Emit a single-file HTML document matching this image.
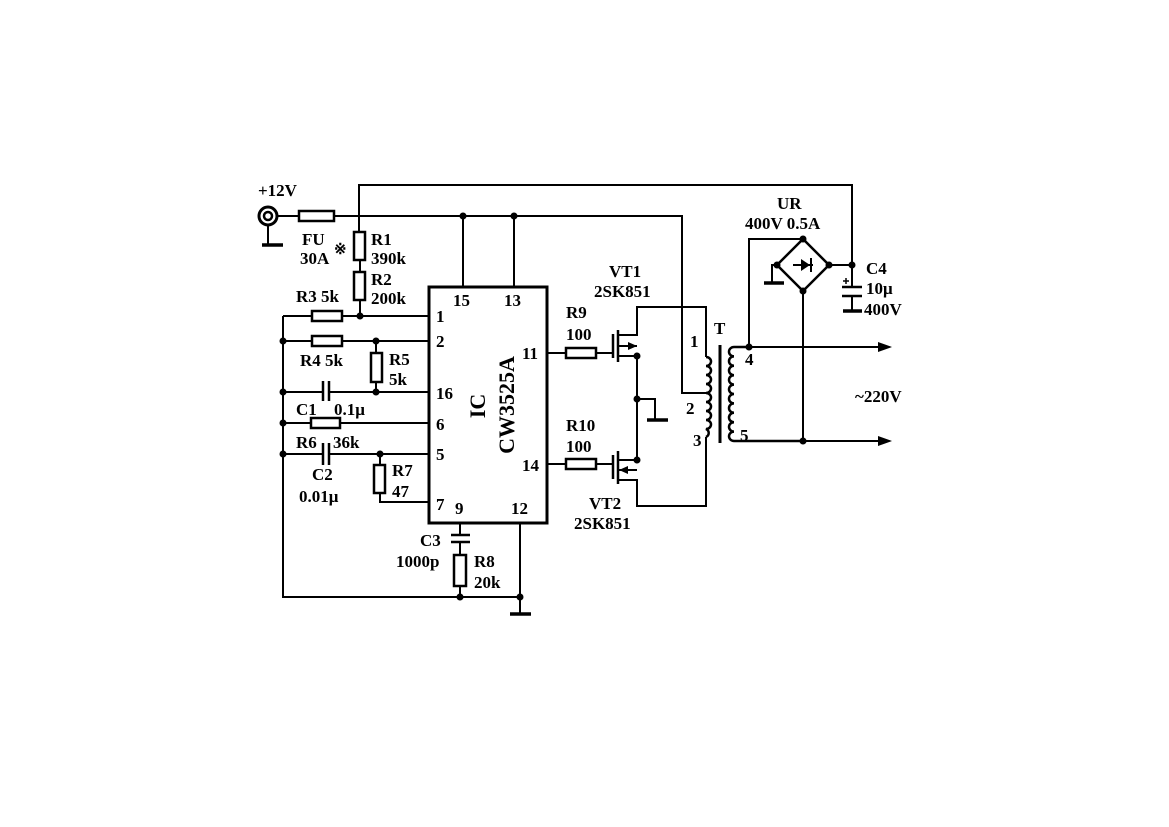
<!DOCTYPE html>
<html><head><meta charset="utf-8"><style>
html,body{margin:0;padding:0;background:#fff}
svg{display:block}
text{font-family:"Liberation Serif",serif;font-weight:bold;font-size:17px;fill:#000}
</style></head><body>
<svg width="1169" height="827" viewBox="0 0 1169 827" xmlns="http://www.w3.org/2000/svg">
<g stroke="#000" stroke-width="2" fill="none">
<polyline points="359,232 359,185 852,185 852,287"/>
<circle cx="268" cy="216" r="9" stroke-width="3"/>
<circle cx="268" cy="216" r="4" stroke-width="2.5"/>
<line x1="268" y1="225" x2="268" y2="245"/>
<line x1="262" y1="245" x2="283" y2="245" stroke-width="3.5"/>
<line x1="277" y1="216" x2="299" y2="216"/>
<rect x="299" y="211" width="35" height="10" stroke-width="2.5"/>
<polyline points="334,216 682,216 682,393 710,393"/>
<line x1="463" y1="216" x2="463" y2="287"/>
<line x1="514" y1="216" x2="514" y2="287"/>
<rect x="354" y="232" width="11" height="28" stroke-width="2.5"/>
<line x1="360" y1="260" x2="360" y2="272"/>
<rect x="354" y="272" width="11" height="28" stroke-width="2.5"/>
<line x1="360" y1="300" x2="360" y2="316"/>
<rect x="429" y="287" width="118" height="236" stroke-width="3"/>
<polyline points="283,316 283,597 520,597"/>
<line x1="283" y1="316" x2="312" y2="316"/>
<rect x="312" y="311" width="30" height="10" stroke-width="2.5"/>
<line x1="342" y1="316" x2="429" y2="316"/>
<line x1="283" y1="341" x2="312" y2="341"/>
<rect x="312" y="336" width="30" height="10" stroke-width="2.5"/>
<line x1="342" y1="341" x2="429" y2="341"/>
<line x1="376" y1="341" x2="376" y2="353"/>
<rect x="371" y="353" width="11" height="29" stroke-width="2.5"/>
<line x1="376" y1="382" x2="376" y2="392"/>
<line x1="283" y1="392" x2="323" y2="392"/>
<line x1="323" y1="381" x2="323" y2="401" stroke-width="2.5"/>
<line x1="329" y1="381" x2="329" y2="401" stroke-width="2.5"/>
<line x1="329" y1="392" x2="429" y2="392"/>
<line x1="283" y1="423" x2="311" y2="423"/>
<rect x="311" y="418" width="29" height="10" stroke-width="2.5"/>
<line x1="340" y1="423" x2="429" y2="423"/>
<line x1="283" y1="454" x2="323" y2="454"/>
<line x1="323" y1="443" x2="323" y2="465" stroke-width="2.5"/>
<line x1="329" y1="443" x2="329" y2="465" stroke-width="2.5"/>
<line x1="329" y1="454" x2="429" y2="454"/>
<line x1="380" y1="454" x2="380" y2="465"/>
<rect x="374" y="465" width="11" height="28" stroke-width="2.5"/>
<polyline points="380,493 380,502 429,502"/>
<line x1="460" y1="523" x2="460" y2="535"/>
<line x1="451" y1="535" x2="470" y2="535" stroke-width="2.5"/>
<line x1="451" y1="542" x2="470" y2="542" stroke-width="2.5"/>
<line x1="460" y1="542" x2="460" y2="555"/>
<rect x="454" y="555" width="12" height="31" stroke-width="2.5"/>
<line x1="460" y1="586" x2="460" y2="597"/>
<line x1="520" y1="523" x2="520" y2="614"/>
<line x1="510" y1="614" x2="531" y2="614" stroke-width="3.5"/>
<line x1="547" y1="353" x2="566" y2="353"/>
<rect x="566" y="348" width="30" height="10" stroke-width="2.5"/>
<line x1="596" y1="353" x2="613" y2="353"/>
<line x1="547" y1="464" x2="566" y2="464"/>
<rect x="566" y="459" width="30" height="10" stroke-width="2.5"/>
<line x1="596" y1="464" x2="613" y2="464"/>
<line x1="613" y1="334" x2="613" y2="358" stroke-width="2.5"/>
<line x1="618" y1="330" x2="618" y2="362" stroke-width="2.5"/>
<polyline points="618,335 637,335 637,307 706,307 706,357"/>
<line x1="618" y1="346" x2="637" y2="346"/>
<polyline points="618,356 637,356 637,460"/>
<polyline points="637,399 655,399 655,420"/>
<line x1="647" y1="420" x2="668" y2="420" stroke-width="3.5"/>
<line x1="613" y1="455" x2="613" y2="479" stroke-width="2.5"/>
<line x1="618" y1="451" x2="618" y2="484" stroke-width="2.5"/>
<line x1="618" y1="460" x2="637" y2="460"/>
<line x1="618" y1="470" x2="637" y2="470"/>
<polyline points="618,480 637,480 637,506 706,506 706,437"/>
<path d="M706,357 a5,4.5 0 0 1 0,9 a5,4.5 0 0 1 0,9 a5,4.5 0 0 1 0,9 a5,4.5 0 0 1 0,9 a5,4.5 0 0 1 0,9 a5,4.5 0 0 1 0,9 a5,4.5 0 0 1 0,9 a5,4.5 0 0 1 0,9 a5,4.5 0 0 1 0,8" stroke-width="2.5"/>
<line x1="720" y1="345" x2="720" y2="443" stroke-width="3"/>
<path d="M749,347 L734,347 a5,4.7 0 0 0 0,9.4 a5,4.7 0 0 0 0,9.4 a5,4.7 0 0 0 0,9.4 a5,4.7 0 0 0 0,9.4 a5,4.7 0 0 0 0,9.4 a5,4.7 0 0 0 0,9.4 a5,4.7 0 0 0 0,9.4 a5,4.7 0 0 0 0,9.4 a5,4.7 0 0 0 0,9.4 a5,4.7 0 0 0 0,9.4 L803,441" stroke-width="2.5"/>
<line x1="749" y1="347" x2="878" y2="347"/>
<line x1="803" y1="441" x2="878" y2="441"/>
<polygon points="803,239 829,265 803,291 777,265" stroke-width="2.5"/>
<polyline points="803,239 749,239 749,347"/>
<line x1="803" y1="291" x2="803" y2="441"/>
<polyline points="777,265 772,265 772,283"/>
<line x1="764" y1="283" x2="784" y2="283" stroke-width="3.5"/>
<line x1="829" y1="265" x2="852" y2="265"/>
<line x1="793" y1="265" x2="813" y2="265"/>
<line x1="842" y1="287" x2="862" y2="287" stroke-width="2.5"/>
<line x1="842" y1="296" x2="862" y2="296" stroke-width="2.5"/>
<line x1="852" y1="296" x2="852" y2="311"/>
<line x1="843" y1="311" x2="862" y2="311" stroke-width="3.5"/>
<line x1="843" y1="281" x2="849" y2="281" stroke-width="1.5"/>
<line x1="846" y1="278" x2="846" y2="284" stroke-width="1.5"/>
</g>
<g fill="#000">
<polygon points="801,259 801,271 810,265"/>
<line x1="811" y1="258" x2="811" y2="272" stroke="#000" stroke-width="2"/>
<polygon points="878,342 892,347 878,352"/>
<polygon points="878,436 892,441 878,446"/>
<polygon points="637,346 628,342 628,350"/>
<polygon points="619,470 628,466 628,474"/>
<circle cx="463" cy="216" r="3.5"/><circle cx="514" cy="216" r="3.5"/>
<circle cx="360" cy="316" r="3.5"/><circle cx="283" cy="341" r="3.5"/>
<circle cx="376" cy="341" r="3.5"/><circle cx="376" cy="392" r="3.5"/>
<circle cx="283" cy="392" r="3.5"/><circle cx="283" cy="423" r="3.5"/>
<circle cx="283" cy="454" r="3.5"/><circle cx="380" cy="454" r="3.5"/>
<circle cx="460" cy="597" r="3.5"/><circle cx="520" cy="597" r="3.5"/>
<circle cx="637" cy="356" r="3.5"/><circle cx="637" cy="399" r="3.5"/>
<circle cx="637" cy="460" r="3.5"/>
<circle cx="749" cy="347" r="3.5"/><circle cx="803" cy="441" r="3.5"/>
<circle cx="803" cy="239" r="3.5"/><circle cx="803" cy="291" r="3.5"/>
<circle cx="777" cy="265" r="3.5"/><circle cx="829" cy="265" r="3.5"/>
<circle cx="852" cy="265" r="3.5"/>
</g>
<text x="258" y="196">+12V</text>
<text x="302" y="245">FU</text>
<text x="300" y="264">30A</text>
<text x="334" y="254" style="font-size:15px">※</text>
<text x="371" y="245">R1</text>
<text x="371" y="264">390k</text>
<text x="371" y="285">R2</text>
<text x="371" y="304">200k</text>
<text x="296" y="302">R3 5k</text>
<text x="300" y="366">R4 5k</text>
<text x="389" y="365">R5</text>
<text x="389" y="385">5k</text>
<text x="296" y="415">C1</text>
<text x="334" y="415">0.1μ</text>
<text x="296" y="448">R6</text>
<text x="333" y="448">36k</text>
<text x="312" y="480">C2</text>
<text x="299" y="502">0.01μ</text>
<text x="392" y="476">R7</text>
<text x="392" y="497">47</text>
<text x="420" y="546">C3</text>
<text x="396" y="567">1000p</text>
<text x="474" y="567">R8</text>
<text x="474" y="588">20k</text>
<text x="453" y="306">15</text>
<text x="504" y="306">13</text>
<text x="436" y="322">1</text>
<text x="436" y="347">2</text>
<text x="436" y="399">16</text>
<text x="436" y="430">6</text>
<text x="436" y="460">5</text>
<text x="436" y="510">7</text>
<text x="455" y="514">9</text>
<text x="511" y="514">12</text>
<text x="522" y="359">11</text>
<text x="522" y="471">14</text>
<text transform="translate(485,406) rotate(-90)" text-anchor="middle" style="font-size:22px">IC</text>
<text transform="translate(514,405) rotate(-90)" text-anchor="middle" style="font-size:22px">CW3525A</text>
<text x="566" y="318">R9</text>
<text x="566" y="340">100</text>
<text x="566" y="431">R10</text>
<text x="566" y="452">100</text>
<text x="609" y="277">VT1</text>
<text x="594" y="297">2SK851</text>
<text x="589" y="509">VT2</text>
<text x="574" y="529">2SK851</text>
<text x="690" y="347">1</text>
<text x="686" y="414">2</text>
<text x="693" y="446">3</text>
<text x="714" y="334">T</text>
<text x="745" y="365">4</text>
<text x="740" y="441">5</text>
<text x="777" y="209">UR</text>
<text x="745" y="229">400V 0.5A</text>
<text x="866" y="274">C4</text>
<text x="866" y="294">10μ</text>
<text x="864" y="315">400V</text>
<text x="855" y="402">~220V</text>
</svg>
</body></html>
